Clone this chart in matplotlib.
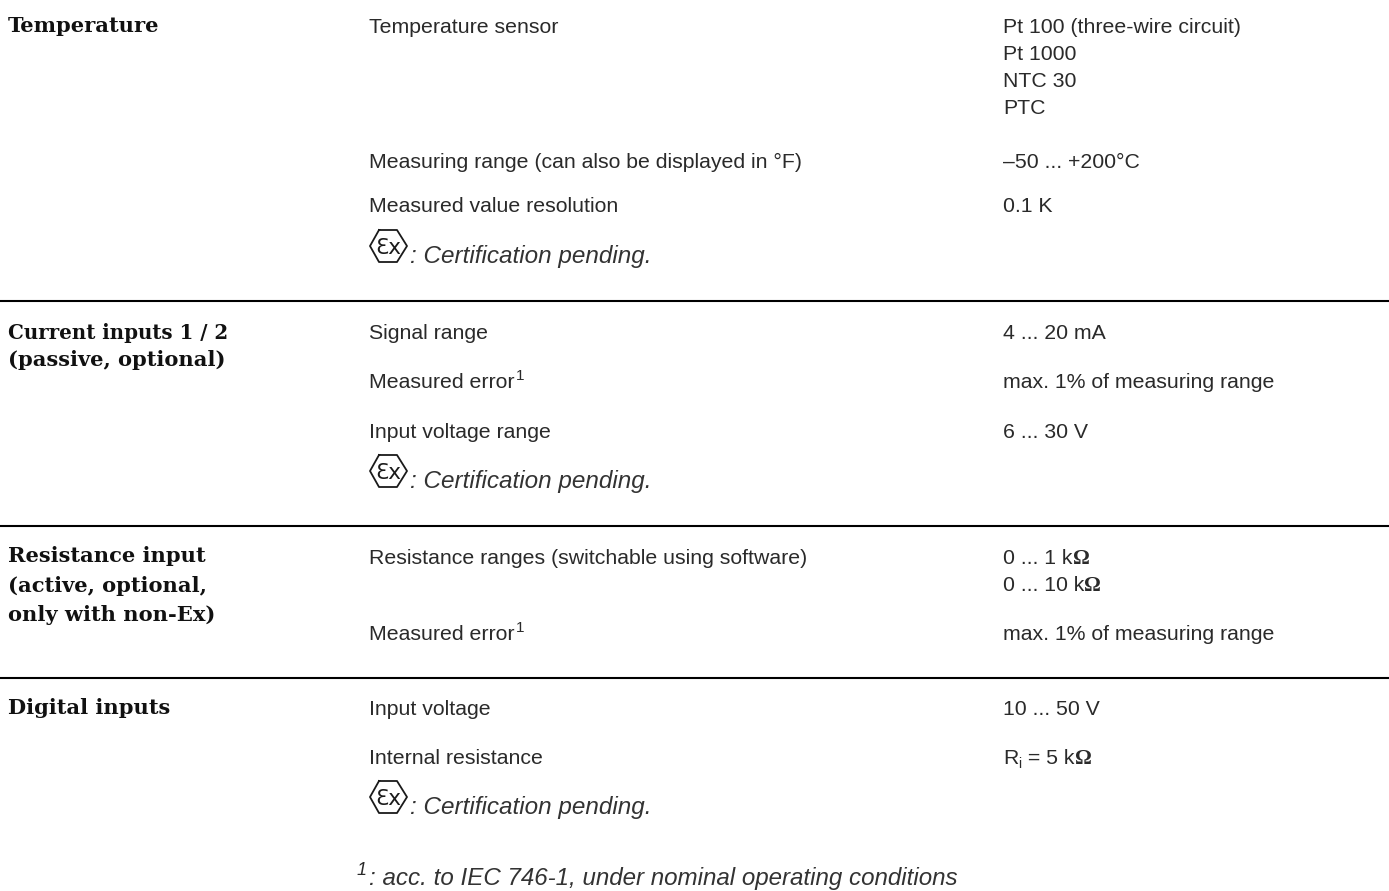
"""
Temperature / input specification table
"""
import matplotlib
matplotlib.use("Agg")
import matplotlib.pyplot as plt

W, H = 1389, 891

# section headings
headings = ["Temperature",
            "Current inputs 1 / 2", "(passive, optional)",
            "Resistance input", "(active, optional,", "only with non-Ex)",
            "Digital inputs"]
heading_y = [32, 339, 366, 562, 592, 621, 714]

# middle column
labels = ["Temperature sensor", "Measuring range (can also be displayed in °F)",
          "Measured value resolution", "Signal range", "Input voltage range",
          "Resistance ranges (switchable using software)", "Input voltage",
          "Internal resistance"]
label_y = [33, 168, 212, 339, 438, 564, 715, 764]

# right column
values = ["Pt 100 (three-wire circuit)", "Pt 1000", "NTC 30", "PTC",
          "–50 ... +200°C", "0.1 K", "4 ... 20 mA",
          "max. 1% of measuring range", "6 ... 30 V",
          "max. 1% of measuring range", "10 ... 50 V"]
value_y = [33, 60, 87, 114, 168, 212, 339, 388, 438, 640, 715]

error_y = [388, 640]
ohm_values = ["0 ... 1 k", "0 ... 10 k"]
ohm_y = [564, 591]
pending_y = [263, 488, 814]
rule_y = [301, 526, 678]

X_HEAD, X_LABEL, X_VALUE = 8, 369, 1003
INK = "#2a2a2a"
BODY = dict(family="Liberation Sans", fontsize=15.35, color=INK, va="baseline")

plt.rcParams["font.family"] = ["Liberation Sans", "DejaVu Sans"]
fig = plt.figure(figsize=(W / 100, H / 100), dpi=100)
ax = fig.add_axes([0, 0, 1, 1])
ax.set_xlim(0, W)
ax.set_ylim(H, 0)
ax.axis("off")


def text_end(t):
    bb = t.get_window_extent(fig.canvas.get_renderer())
    return bb.x1


def ex_mark(x, base):
    # hexagon with the Ex inside, sits on the text baseline
    top, bot = base - 33, base - 1
    mid = (top + bot) / 2
    ax.plot([x + 10, x + 1, x + 10, x + 28, x + 38, x + 28, x + 10],
            [top, mid, bot, bot, mid, top, top], color="#1a1a1a", lw=1.3)
    ax.text(x + 19.5, mid + 8, "Ɛx", family="DejaVu Sans", fontsize=15.5,
            color="#1a1a1a", ha="center", va="baseline")


for s, y in zip(headings, heading_y):
    # the digits and spaces of this line run narrower in the original
    size = 14.3 if "1 / 2" in s else 15.1
    ax.text(X_HEAD, y, s, family="DejaVu Serif", weight="bold", fontsize=size,
            color="#111111", va="baseline")
for s, y in zip(labels, label_y):
    ax.text(X_LABEL, y, s, **BODY)
for s, y in zip(values, value_y):
    ax.text(X_VALUE, y, s, **BODY)

for y in error_y:
    t = ax.text(X_LABEL, y, "Measured error", **BODY)
    ax.text(text_end(t) + 1, y - 8, "1", family="Liberation Sans", fontsize=11,
            color=INK, va="baseline")

for s, y in zip(ohm_values, ohm_y):
    t = ax.text(X_VALUE, y, s, **BODY)
    ax.text(text_end(t), y, "Ω", family="Liberation Serif", weight="bold",
            fontsize=15, color=INK, va="baseline")

# R_i = 5 kOhm
t = ax.text(X_VALUE, 764, "R", **BODY)
t = ax.text(text_end(t), 768, "i", family="Liberation Sans", fontsize=10,
            color=INK, va="baseline")
t = ax.text(text_end(t) + 1, 764, " = 5 k", **BODY)
ax.text(text_end(t), 764, "Ω", family="Liberation Serif", weight="bold",
        fontsize=15, color=INK, va="baseline")

for y in pending_y:
    ex_mark(X_LABEL, y)
    ax.text(410, y, ": Certification pending.", family="Liberation Sans",
            style="italic", fontsize=17.5, color="#333333", va="baseline")

ax.text(357, 875, "1", family="Liberation Sans", style="italic", fontsize=13,
        color=INK, va="baseline")
ax.text(369, 885, ": acc. to IEC 746-1, under nominal operating conditions",
        family="Liberation Sans", style="italic", fontsize=17.4, color="#333333",
        va="baseline")

for y in rule_y:
    ax.plot([0, W], [y, y], color="black", lw=1.5, solid_capstyle="butt")

fig.savefig("out.png", dpi=100)
